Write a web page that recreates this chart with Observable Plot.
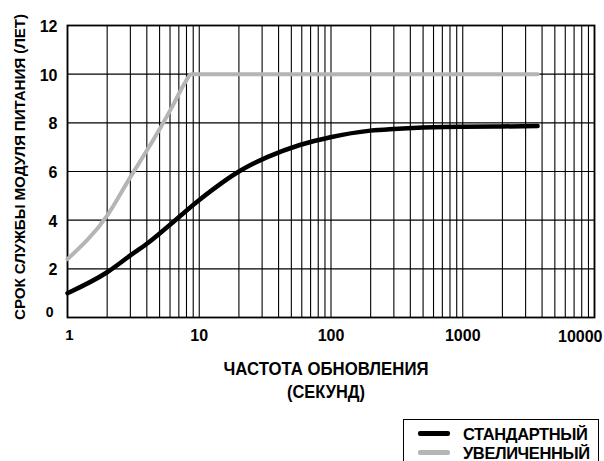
<!DOCTYPE html>
<html><head><meta charset="utf-8">
<script src="https://cdn.jsdelivr.net/npm/d3@7"></script>
<script src="https://cdn.jsdelivr.net/npm/@observablehq/plot@0.6"></script>
<style>
body{margin:0;background:#fff;}
#wrap{position:relative;width:604px;height:461px;overflow:hidden;font-family:"Liberation Sans",Arial,sans-serif;}
.leg{position:absolute;left:403px;top:419px;width:196px;height:60px;border:1.5px solid #000;box-sizing:border-box;}
.li{position:absolute;left:14px;height:4.5px;width:32px;border-radius:2px;}
.lt{position:absolute;left:59px;font-weight:bold;font-size:16.5px;letter-spacing:-0.4px;line-height:18px;color:#000;white-space:nowrap;}
</style></head><body><div id="wrap"></div>
<script>
const stdX = [1, 2, 3, 4, 5.7, 9.9, 20.6, 32.8, 58.8, 99, 199, 300, 600, 1000, 1950, 3700];
const stdY = [1.0, 1.86, 2.55, 3.03, 3.71, 4.81, 6.04, 6.59, 7.1, 7.41, 7.68, 7.75, 7.82, 7.84, 7.85, 7.87];
const extX = [1, 2, 3, 4, 5.1, 6.4, 7.7, 8.7, 100, 1000, 3700];
const extY = [2.4, 4.19, 5.77, 6.86, 7.82, 8.78, 9.6, 10, 10, 10, 10];
const seriesNames = ["СТАНДАРТНЫЙ", "УВЕЛИЧЕННЫЙ"];
const seriesColors = ["#000000", "#b5b5b5"];
const xTickLabels = [1, 10, 100, 1000, 10000];
const yTickLabels = [0, 2, 4, 6, 8, 10, 12];
const yLabel = "СРОК СЛУЖБЫ МОДУЛЯ ПИТАНИЯ (ЛЕТ)";
const xLabel = ["ЧАСТОТА ОБНОВЛЕНИЯ", "(СЕКУНД)"];

const gridX = [];
for (const d of [1, 10, 100, 1000]) for (let k = 1; k <= 9; k++) gridX.push(k * d);
gridX.push(10000);

const std = stdX.map((x, i) => ({x, y: stdY[i]}));
const ext = extX.map((x, i) => ({x, y: extY[i]}));

const ff = "'Liberation Sans', Arial, sans-serif";
const plot = Plot.plot({
  width: 604, height: 461,
  marginLeft: 67, marginRight: 10, marginTop: 25, marginBottom: 144,
  style: {fontFamily: ff, fontSize: "16px", fontWeight: "bold", color: "#000", background: "#fff"},
  x: {type: "log", domain: [1, 10000]},
  y: {domain: [0, 12]},
  marks: [
    Plot.ruleX(gridX, {stroke: "#000", strokeWidth: 1.1, strokeOpacity: 1}),
    Plot.ruleY(yTickLabels, {stroke: "#000", strokeWidth: 1.1}),
    Plot.frame({stroke: "#000", strokeWidth: 1.8}),
    Plot.axisY(yTickLabels.slice(1), {tickSize: 0, tickPadding: 10, label: null, fontSize: 16, fontWeight: "bold", dy: 1.5}),
    Plot.axisY(yTickLabels.slice(0, 1), {tickSize: 0, tickPadding: 14, label: null, fontSize: 14, fontWeight: "bold", dy: -5}),
    Plot.axisX(xTickLabels.slice(0, 1), {tickSize: 0, tickPadding: 12, label: null, tickFormat: d => String(d), fontSize: 15, fontWeight: "bold", dx: 2}),
    Plot.axisX(xTickLabels.slice(1, 4), {tickSize: 0, tickPadding: 12, label: null, tickFormat: d => String(d), fontSize: 16, fontWeight: "bold"}),
    Plot.axisX(xTickLabels.slice(4), {tickSize: 0, tickPadding: 13, label: null, tickFormat: d => String(d), textAnchor: "end", dx: 8, fontSize: 16, fontWeight: "bold"}),
    Plot.line(ext, {x: "x", y: "y", stroke: seriesColors[1], strokeWidth: 4, curve: "monotone-x"}),
    Plot.line(std, {x: "x", y: "y", stroke: seriesColors[0], strokeWidth: 4.5, curve: "monotone-x"})
  ]
});
const wrap = document.getElementById("wrap");
wrap.appendChild(plot);

const svg = d3.select(plot);
svg.append("text").text(yLabel)
  .attr("transform", `translate(24.5,167) rotate(-90)`)
  .attr("text-anchor", "middle").attr("font-weight", "bold").attr("font-size", 15.5).attr("letter-spacing", "-0.1")
  .attr("textLength", 306).attr("lengthAdjust", "spacingAndGlyphs")
  .attr("font-family", ff).attr("fill", "#000");
const xLens = [205, 78];
xLabel.forEach((t, i) => {
  svg.append("text").text(t)
    .attr("x", 326).attr("y", 375 + i * 23)
    .attr("text-anchor", "middle").attr("font-weight", "bold").attr("font-size", 18)
    .attr("textLength", xLens[i]).attr("lengthAdjust", "spacingAndGlyphs")
    .attr("font-family", ff).attr("fill", "#000");
});

const leg = document.createElement("div");
leg.className = "leg";
seriesNames.forEach((n, i) => {
  const l = document.createElement("div");
  l.className = "li"; l.style.top = (11 + i * 19) + "px"; l.style.background = seriesColors[i];
  leg.appendChild(l);
  const t = document.createElement("div");
  t.className = "lt"; t.style.top = (5 + i * 19) + "px"; t.textContent = n;
  leg.appendChild(t);
});
wrap.appendChild(leg);
</script></body></html>
